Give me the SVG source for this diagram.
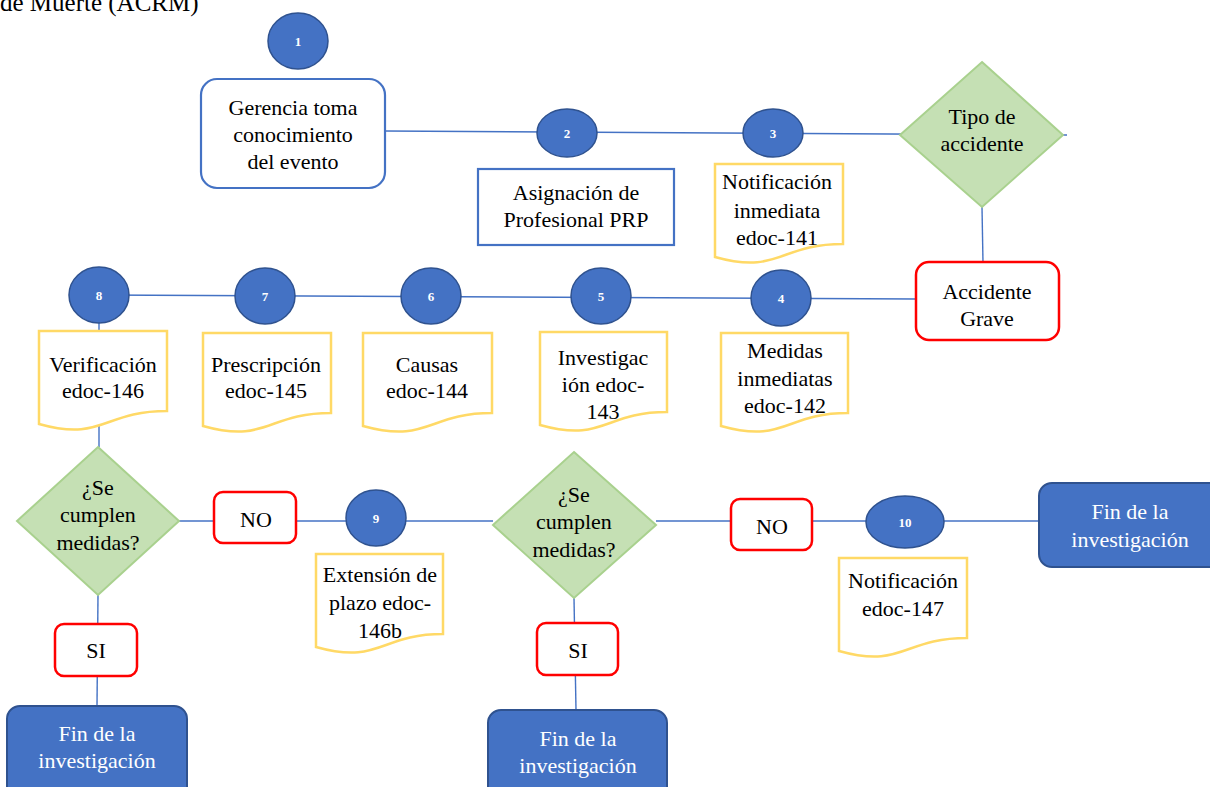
<svg xmlns="http://www.w3.org/2000/svg" width="1210" height="787" viewBox="0 0 1210 787" font-family="'Liberation Serif', serif">
<style>
text{font-family:'Liberation Serif',serif;font-size:22px;fill:#000;text-anchor:middle}
.title{text-anchor:start;font-size:25px}
.num{fill:#fff;font-size:13px;font-weight:bold}
.wt{fill:#fff}
.conn{stroke:#4472C4;stroke-width:1.4;fill:none}
.circ{fill:#4472C4;stroke:#2F528F;stroke-width:1.5}
.doc{fill:#fff;stroke:#FFD966;stroke-width:2.5}
.dia{fill:#C5E0B4;stroke:#A9D18E;stroke-width:2}
.red{fill:#fff;stroke:#FF0000;stroke-width:2.5}
.blue{fill:#fff;stroke:#4472C4;stroke-width:2.2}
.fin{fill:#4472C4;stroke:#2F528F;stroke-width:2}
</style>
<rect width="1210" height="787" fill="#fff"/>
<text class="title" x="0" y="11">de Muerte (ACRM)</text>
<g id="connectors">
<path class="conn" d="M385,131 L1067,135"/>
<path class="conn" d="M982,207 L983,263"/>
<path class="conn" d="M916,299 L99,295"/>
<path class="conn" d="M99,323 L99,447"/>
<path class="conn" d="M179,521 L493,521"/>
<path class="conn" d="M98,595 L97,706"/>
<path class="conn" d="M656,521 L1040,521"/>
<path class="conn" d="M574,598 L576,710"/>
</g>
<g id="n1"><ellipse class="circ" cx="298" cy="41" rx="30" ry="28"/><text class="num" x="298" y="46">1</text></g>
<g id="gerencia"><rect class="blue" x="201" y="79" width="184" height="109" rx="16"/><text x="293" y="115">Gerencia toma</text><text x="293" y="142">conocimiento</text><text x="293" y="169">del evento</text></g>
<g id="n2"><ellipse class="circ" cx="567" cy="133" rx="30" ry="24"/><text class="num" x="567" y="138">2</text></g>
<g id="asignacion"><rect class="blue" x="478" y="169" width="196" height="76"/><text x="576" y="200">Asignación de</text><text x="576" y="227">Profesional PRP</text></g>
<g id="n3"><ellipse class="circ" cx="773" cy="133" rx="30" ry="24"/><text class="num" x="773" y="138">3</text></g>
<g id="doc141"><path class="doc" d="M715,164 H843 V244 C779,244 779,275 715,257 Z"/><text x="777" y="189">Notificación</text><text x="777" y="218">inmediata</text><text x="777" y="245">edoc-141</text></g>
<g id="tipo"><polygon class="dia" points="982,62 1063,135 982,207 900,135"/><text x="982" y="124">Tipo de</text><text x="982" y="151">accidente</text></g>
<g id="grave"><rect class="red" x="916" y="262" width="143" height="78" rx="13"/><text x="987" y="299">Accidente</text><text x="987" y="326">Grave</text></g>
<g id="n4"><ellipse class="circ" cx="781" cy="298" rx="30" ry="28"/><text class="num" x="781" y="303">4</text></g>
<g id="n5"><ellipse class="circ" cx="601" cy="296" rx="30" ry="28"/><text class="num" x="601" y="301">5</text></g>
<g id="n6"><ellipse class="circ" cx="431" cy="296" rx="30" ry="28"/><text class="num" x="431" y="301">6</text></g>
<g id="n7"><ellipse class="circ" cx="265" cy="296" rx="30" ry="28"/><text class="num" x="265" y="301">7</text></g>
<g id="n8"><ellipse class="circ" cx="99" cy="295" rx="30" ry="28"/><text class="num" x="99" y="300">8</text></g>
<g id="doc142"><path class="doc" d="M721,333 H848 V413 C785,413 785,444 721,426 Z"/><text x="785" y="358">Medidas</text><text x="785" y="386">inmediatas</text><text x="785" y="413">edoc-142</text></g>
<g id="doc143"><path class="doc" d="M540,332 H667 V412 C604,412 604,443 540,425 Z"/><text x="603" y="365">Investigac</text><text x="603" y="392">ión edoc-</text><text x="603" y="419">143</text></g>
<g id="doc144"><path class="doc" d="M363,333 H492 V413 C428,413 428,444 363,426 Z"/><text x="427" y="372">Causas</text><text x="427" y="398">edoc-144</text></g>
<g id="doc145"><path class="doc" d="M203,333 H331 V413 C267,413 267,444 203,426 Z"/><text x="266" y="372">Prescripción</text><text x="266" y="398">edoc-145</text></g>
<g id="doc146"><path class="doc" d="M39,331 H167 V411 C103,411 103,442 39,424 Z"/><text x="103" y="372">Verificación</text><text x="103" y="398">edoc-146</text></g>
<g id="dec1"><polygon class="dia" points="98,447 179,521 98,595 17,521"/><text x="98" y="495">¿Se</text><text x="98" y="522">cumplen</text><text x="98" y="550">medidas?</text></g>
<g id="no1"><rect class="red" x="214" y="492" width="82" height="51" rx="9"/><text x="256" y="527">NO</text></g>
<g id="n9"><ellipse class="circ" cx="376" cy="518" rx="30" ry="28"/><text class="num" x="376" y="523">9</text></g>
<g id="doc146b"><path class="doc" d="M316,554 H443 V634 C380,634 380,665 316,647 Z"/><text x="380" y="582">Extensión de</text><text x="380" y="610">plazo edoc-</text><text x="380" y="638">146b</text></g>
<g id="si1"><rect class="red" x="55" y="624" width="82" height="52" rx="9"/><text x="96" y="658">SI</text></g>
<g id="fin1"><rect class="fin" x="7" y="706" width="180" height="95" rx="13"/><text class="wt" x="97" y="741">Fin de la</text><text class="wt" x="97" y="768">investigación</text></g>
<g id="dec2"><polygon class="dia" points="574,452 656,525 574,598 493,525"/><text x="574" y="502">¿Se</text><text x="574" y="529">cumplen</text><text x="574" y="557">medidas?</text></g>
<g id="si2"><rect class="red" x="537" y="623" width="81" height="52" rx="9"/><text x="578" y="658">SI</text></g>
<g id="fin2"><rect class="fin" x="488" y="710" width="179" height="95" rx="13"/><text class="wt" x="578" y="746">Fin de la</text><text class="wt" x="578" y="773">investigación</text></g>
<g id="no2"><rect class="red" x="731" y="499" width="81" height="51" rx="9"/><text x="772" y="534">NO</text></g>
<g id="n10"><ellipse class="circ" cx="905" cy="522" rx="39" ry="26"/><text class="num" x="905" y="527">10</text></g>
<g id="doc147"><path class="doc" d="M839,558 H967 V638 C903,638 903,669 839,651 Z"/><text x="903" y="588">Notificación</text><text x="903" y="616">edoc-147</text></g>
<g id="fin3"><rect class="fin" x="1039" y="483" width="185" height="84" rx="13"/><text class="wt" x="1130" y="519">Fin de la</text><text class="wt" x="1130" y="547">investigación</text></g>
</svg>
